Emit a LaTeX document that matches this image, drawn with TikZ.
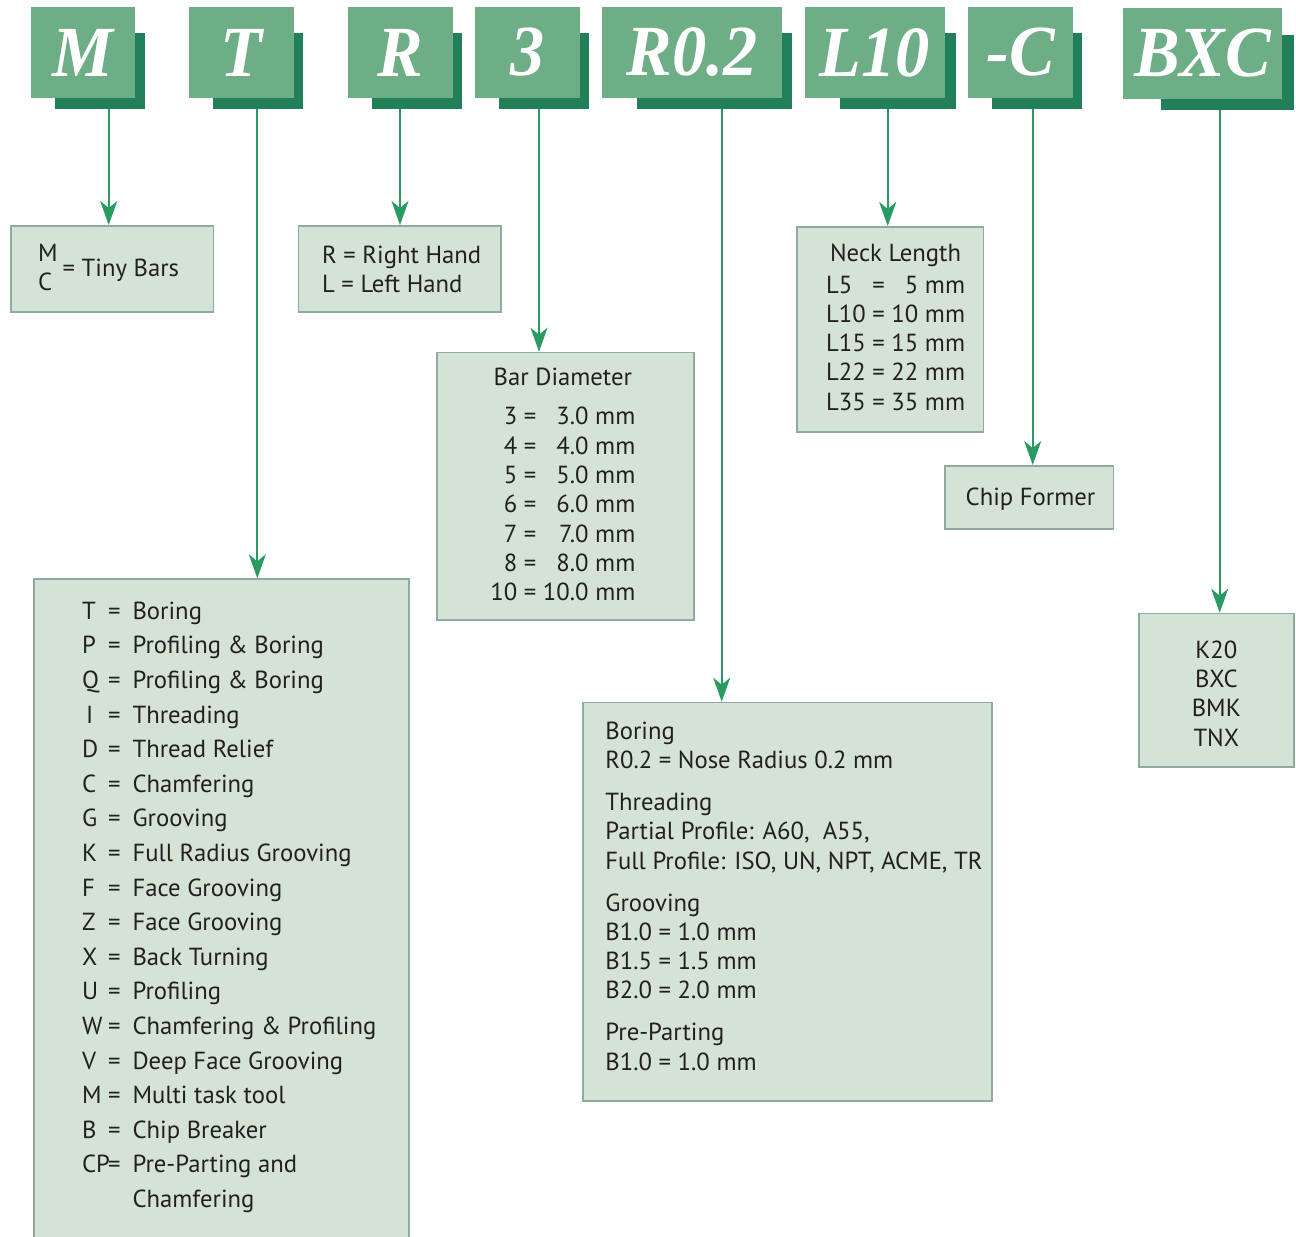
\documentclass[tikz,border=0pt]{standalone}
\usepackage{fontspec}
\setmainfont{PT Sans}
\newfontfamily\hdrfont[FakeStretch=0.95]{Liberation Serif}
\usepackage{xcolor}
\usepackage{tikz}
\usetikzlibrary{arrows.meta,backgrounds}

\definecolor{hdrgreen}{HTML}{6DAE87}
\definecolor{hdrdark}{HTML}{21805A}
\definecolor{boxfill}{HTML}{D5E3D6}
\definecolor{boxline}{HTML}{8FAAA0}
\definecolor{connline}{HTML}{2A9A63}
\definecolor{txtgray}{HTML}{231F20}

\tikzset{
	hdr/.style={fill=hdrgreen, text=white, inner sep=0pt, minimum height=45.5pt,
		font=\hdrfont\bfseries\itshape\fontsize{36}{36}\selectfont},
	infobox/.style={draw=boxline, line width=0.75pt, fill=boxfill, anchor=north west, inner sep=0pt},
	infotext/.style={inner sep=0pt, text=txtgray, font=\fontsize{12.35}{14.65}\selectfont},
	conn/.style={draw=connline, line width=1pt, -{Stealth[length=12pt,width=8.5pt,inset=3.5pt]}}
}

\begin{document}
\begin{tikzpicture}[x=0.5pt,y=-0.5pt]
	\useasboundingbox (0,0) rectangle (1296,1237);
	% code letters
	\node[hdr, minimum width=52pt] (hM) at (83,52.5) {M};
	\node[hdr, minimum width=52.5pt] (hT) at (241.5,52.5) {T};
	\node[hdr, minimum width=52.5pt] (hR) at (400.5,52.5) {R};
	\node[hdr, minimum width=52.5pt] (h3) at (527.5,52.5) {3};
	\node[hdr, minimum width=90pt] (hR02) at (692,52.5) {R0.2};
	\node[hdr, minimum width=70pt] (hL) at (875,52.5) {L10};
	\node[hdr, minimum width=52.5pt] (hC) at (1020.5,52.5) {-C};
	\node[hdr, minimum width=79.5pt] (hB) at (1202.5,53.5) {BXC};
	\begin{scope}[on background layer]
		\fill[hdrdark] ([shift={(24,26)}]hM.north west) rectangle ([shift={(10,11)}]hM.south east);
		\fill[hdrdark] ([shift={(24,26)}]hT.north west) rectangle ([shift={(9,11)}]hT.south east);
		\fill[hdrdark] ([shift={(24,26)}]hR.north west) rectangle ([shift={(9,11)}]hR.south east);
		\fill[hdrdark] ([shift={(24,26)}]h3.north west) rectangle ([shift={(9,11)}]h3.south east);
		\fill[hdrdark] ([shift={(35,26)}]hR02.north west) rectangle ([shift={(10,11)}]hR02.south east);
		\fill[hdrdark] ([shift={(35,26)}]hL.north west) rectangle ([shift={(11,11)}]hL.south east);
		\fill[hdrdark] ([shift={(24,26)}]hC.north west) rectangle ([shift={(9,11)}]hC.south east);
		\fill[hdrdark] ([shift={(38,27)}]hB.north west) rectangle ([shift={(12,11)}]hB.south east);
	\end{scope}

	% boxes
	\node[infobox, minimum width=101.35pt, minimum height=43pt] (iM) at (10,225) {};
	\node[infobox, minimum width=101.15pt, minimum height=43pt] (iR) at (297.7,225) {};
	\node[infobox, minimum width=128.65pt, minimum height=133.8pt] (i3) at (436,351.7) {};
	\node[infobox, minimum width=187.5pt, minimum height=336pt] (iT) at (33.3,578.3) {};
	\node[infobox, minimum width=204.35pt, minimum height=199.15pt] (iR02) at (582.3,701.7) {};
	\node[infobox, minimum width=93.35pt, minimum height=102.5pt] (iL) at (796,226) {};
	\node[infobox, minimum width=84.2pt, minimum height=31.65pt] (iC) at (944.3,465) {};
	\node[infobox, minimum width=77.5pt, minimum height=76.65pt] (iB) at (1138.3,612.7) {};

	\node[infotext, anchor=base west] (tM) at (37.7,276) {\begin{tabular}{@{}l@{}}M\\C\end{tabular}\hspace{2.5pt}= Tiny Bars};
	\node[infotext, anchor=base west] (tR) at (321.7,263.3) {\begin{tabular}[t]{@{}l@{}}R = Right Hand\\L = Left Hand\end{tabular}};
	\node[infotext, anchor=base west] (t3) at (490,385) {\begin{tabular}[t]{@{}r@{ = }r@{}}
		\multicolumn{2}{@{}c@{}}{Bar Diameter}\\[5.3pt]
		3 & 3.0 mm\\ 4 & 4.0 mm\\ 5 & 5.0 mm\\ 6 & 6.0 mm\\ 7 & 7.0 mm\\ 8 & 8.0 mm\\ 10 & 10.0 mm
	\end{tabular}};
	\node[infotext, anchor=base west, font=\fontsize{12.35}{17.3}\selectfont] (tT) at (81.7,619.3) {\begin{tabular}[t]{@{}p{13pt}@{}c@{\hspace{6pt}}l@{}}
		T & = & Boring\\
		P & = & Profiling \& Boring\\
		Q & = & Profiling \& Boring\\
		\,I & = & Threading\\
		D & = & Thread Relief\\
		C & = & Chamfering\\
		G & = & Grooving\\
		K & = & Full Radius Grooving\\
		F & = & Face Grooving\\
		Z & = & Face Grooving\\
		X & = & Back Turning\\
		U & = & Profiling\\
		W & = & Chamfering \& Profiling\\
		V & = & Deep Face Grooving\\
		M & = & Multi task tool\\
		B & = & Chip Breaker\\
		CP & = & Pre-Parting and\\
		 & & Chamfering
	\end{tabular}};
	\node[infotext, anchor=base west] (tR02) at (605,739.3) {\begin{tabular}[t]{@{}l@{}}
		Boring\\ R0.2 = Nose Radius 0.2 mm\\[6.3pt]
		Threading\\ Partial Profile: A60,~ A55,\\ Full Profile: ISO, UN, NPT, ACME, TR\\[6.3pt]
		Grooving\\ B1.0 = 1.0 mm\\ B1.5 = 1.5 mm\\ B2.0 = 2.0 mm\\[6.3pt]
		Pre-Parting\\ B1.0 = 1.0 mm
	\end{tabular}};
	\node[infotext, anchor=base west] (tL) at (825.7,261.7) {\begin{tabular}[t]{@{}l@{ = }r@{}}
		\multicolumn{2}{@{}c@{}}{Neck Length}\\[1pt]
		L5 & 5 mm\\ L10 & 10 mm\\ L15 & 15 mm\\ L22 & 22 mm\\ L35 & 35 mm
	\end{tabular}};
	\node[infotext, anchor=base] (tC) at (1030.5,505) {Chip Former};
	\node[infotext, anchor=base] (tB) at (1216.3,658.3) {\begin{tabular}[t]{@{}c@{}}K20\\ BXC\\ BMK\\ TNX\end{tabular}};

	% connectors
	\coordinate (aM) at (108.7,109);
	\coordinate (aT) at (257.3,109);
	\coordinate (aR) at (400,109);
	\coordinate (a3) at (539,109);
	\coordinate (aR02) at (721.7,109);
	\coordinate (aL) at (887.7,109);
	\coordinate (aC) at (1032.7,109);
	\coordinate (aB) at (1219.7,110);
	\draw[conn] (aM) -- (aM |- iM.north);
	\draw[conn] (aT) -- (aT |- iT.north);
	\draw[conn] (aR) -- (aR |- iR.north);
	\draw[conn] (a3) -- (a3 |- i3.north);
	\draw[conn] (aR02) -- (aR02 |- iR02.north);
	\draw[conn] (aL) -- (aL |- iL.north);
	\draw[conn] (aC) -- (aC |- iC.north);
	\draw[conn] (aB) -- (aB |- iB.north);
\end{tikzpicture}
\end{document}
